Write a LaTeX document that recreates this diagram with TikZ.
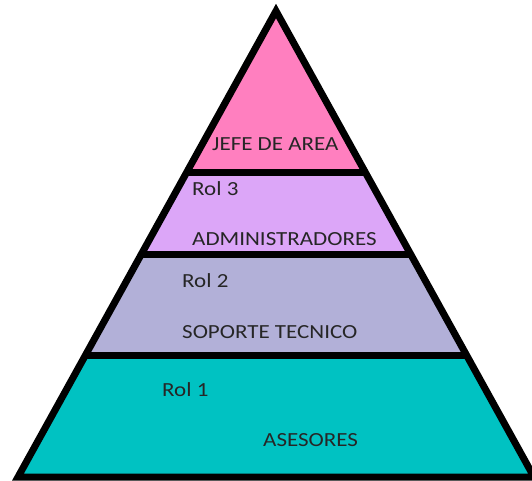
\documentclass[tikz,border=0pt]{standalone}
\usepackage{fontspec}
\newfontfamily\lblfont[FakeStretch=1.15]{Carlito}
\definecolor{jefe}{HTML}{FF7FBF}
\definecolor{admin}{HTML}{DCA6F8}
\definecolor{soporte}{HTML}{B2B0D8}
\definecolor{asesor}{HTML}{00C2C2}
\begin{document}
\begin{tikzpicture}[x=1pt,y=-1pt,
  lbl/.style={anchor=base west, inner sep=0pt, text=black!85,
              font=\lblfont\fontsize{20}{24}\selectfont},
  sepline/.style={line width=7pt, black},
  outline/.style={line width=7pt, black, line join=miter}]
\useasboundingbox (0,0) rectangle (532,480);
\clip (0,0) rectangle (532,480);

% pyramid corners
\coordinate (apex) at (276,11);
\coordinate (bl) at (18,477);
\coordinate (br) at (534,477);

% coloured tiers and the lines between them
\begin{scope}
  \clip (apex) -- (bl) -- (br) -- cycle;
  \fill[jefe]    (0,0)   rectangle (540,172);
  \fill[admin]   (0,172) rectangle (540,254);
  \fill[soporte] (0,254) rectangle (540,355);
  \fill[asesor]  (0,355) rectangle (540,490);
  \draw[sepline] (0,172) -- (540,172);
  \draw[sepline] (0,254) -- (540,254);
  \draw[sepline] (0,355) -- (540,355);
\end{scope}

% outline of the pyramid
\draw[outline] (apex) -- (bl) -- (br) -- cycle;

% tier labels
\node[lbl] (jefe)  at (212,150) {JEFE DE AREA};
\node[lbl] (rol3)  at (192,195) {Rol 3};
\node[lbl] (adm)   at (192,245) {ADMINISTRADORES};
\node[lbl] (rol2)  at (182,287) {Rol 2};
\node[lbl] (sop)   at (182,338) {SOPORTE TECNICO};
\node[lbl] (rol1)  at (162,396) {Rol 1};
\node[lbl] (ases)  at (263,446) {ASESORES};
\end{tikzpicture}
\end{document}
